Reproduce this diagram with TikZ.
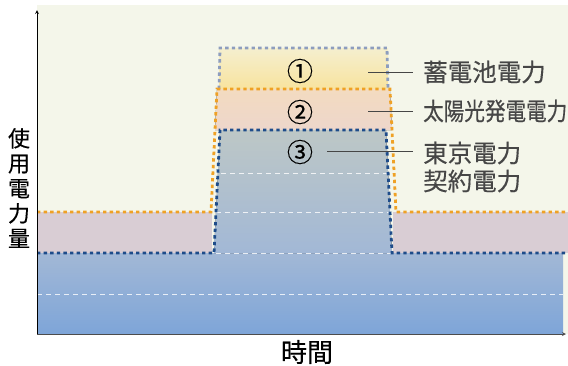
\documentclass[tikz,border=0pt]{standalone}
\usepackage{fontspec}
\setmainfont{Noto Sans CJK JP}
\usepackage{tikz}
\usetikzlibrary{arrows}
\definecolor{creamBg}{HTML}{F4F6EA}
\definecolor{pinkBand}{HTML}{D9CDD4}
\definecolor{blueTop}{HTML}{A2B8D6}
\definecolor{blueBottom}{HTML}{7EA5D8}
\definecolor{towerTop}{HTML}{BDC7C6}
\definecolor{peachTop}{HTML}{F3DBC0}
\definecolor{peachBottom}{HTML}{EDD6CB}
\definecolor{yellowTop}{HTML}{F5EFCF}
\definecolor{yellowBottom}{HTML}{F8E39E}
\definecolor{dotOrange}{HTML}{EFA125}
\definecolor{dotBlue}{HTML}{1E4C8A}
\definecolor{dotGrey}{HTML}{8D9DBE}
\definecolor{textGrey}{HTML}{464646}
\newfontfamily\heavyfont[FakeBold=0.35]{Noto Sans CJK JP}
\tikzstyle{dotLine} = [line width=2.8pt, dash pattern=on 3.4pt off 3.2pt]
\tikzstyle{gridLine} = [white, line width=0.9pt, dash pattern=on 5pt off 4pt, opacity=0.8]
\tikzstyle{leader} = [textGrey, line width=1pt]
\tikzstyle{circNum} = [text=black, font=\heavyfont\fontsize{26}{26}\selectfont, inner sep=0pt]
\tikzstyle{legendText} = [anchor=west, text=textGrey, font=\heavyfont\fontsize{24.5}{24.5}\selectfont, inner sep=0pt]
\tikzstyle{axisText} = [text=black, font=\heavyfont\fontsize{22}{25}\selectfont, align=center, inner sep=0pt]

\begin{document}
\begin{tikzpicture}[x=1pt,y=-1pt]
		\useasboundingbox (0,0) rectangle (568,365);
		%areas
		\fill[creamBg] (37,5) rectangle (568,334);
		\fill[pinkBand] (37,212) rectangle (212,253);
		\fill[pinkBand] (393,212) rectangle (568,253);
		\fill[top color=blueTop, bottom color=blueBottom] (37,253) rectangle (563,334);
		\fill[top color=yellowTop, bottom color=yellowBottom] (219,48) rectangle (388,89);
		\fill[top color=peachTop, bottom color=peachBottom] (217,89) -- (390,89) -- (392,130) -- (215,130) -- cycle;
		\fill[top color=towerTop, bottom color=blueTop] (220,130) -- (386,130) -- (392,253) -- (214,253) -- cycle;
		
		%grid
		\draw[gridLine] (221,173) -- (388,173);
		\draw[gridLine] (216,212) -- (391,212);
		\draw[gridLine] (216,253) -- (391,253);
		\draw[gridLine] (37,294) -- (563,294);
		
		%dotted outlines
		\draw[dotLine, dotGrey] (219,89) -- (220,48) -- (387,48) -- (388,89);
		\draw[dotLine, dotOrange] (37,212) -- (211,212) -- (217,89) -- (390,89) -- (396,212) -- (568,212);
		\draw[dotLine, dotBlue] (37,253) -- (214,253) -- (220,130) -- (386,130) -- (392,253) -- (568,253);
		
		%axes
		\coordinate (origin) at (37,334);
		\coordinate (yEnd) at (37,10);
		\coordinate (xEnd) at (566,334);
		\draw[line width=0.8pt, -stealth] (origin) -- (yEnd);
		\draw[line width=0.8pt, black!70, -stealth] (origin) -- (xEnd);
		
		%labels
		\node[circNum](numA) at (300,71){①};
		\node[circNum](numB) at (300,112){②};
		\node[circNum](numC) at (300,152){③};
		\node[legendText](battery) at (423,72){蓄電池電力};
		\node[legendText](solar) at (423,111){\scalebox{0.84}[1]{太陽光発電電力}};
		\node[legendText](tepco) at (423,153){東京電力};
		\node[legendText](contract) at (423,181){契約電力};
		\node[axisText](usage) at (19,188){使\\用\\電\\力\\量};
		\node[axisText, font=\heavyfont\fontsize{26}{26}\selectfont](time) at (307,352){時間};
		
		%leader lines
		\coordinate (leadA) at (368,72);
		\coordinate (leadB) at (368,111);
		\coordinate (leadC) at (327,151);
		\draw[leader, shorten >=10pt](leadA)--(battery.west);
		\draw[leader, shorten >=10pt](leadB)--(solar.west);
		\draw[leader, shorten >=10pt](leadC)--(leadC -| tepco.west);
	\end{tikzpicture}
\end{document}
